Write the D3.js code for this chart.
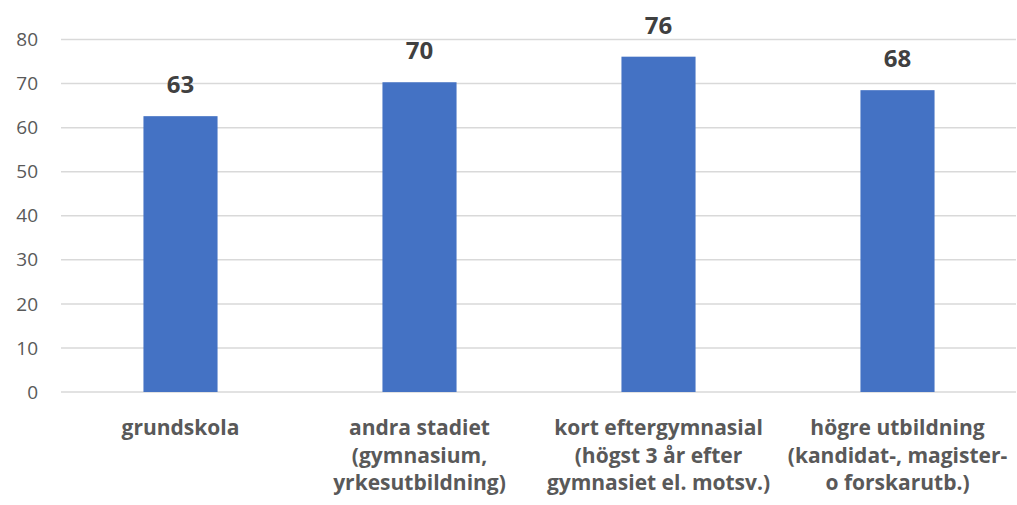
<!DOCTYPE html>
<head>
  <meta charset="utf-8">
  <script src="https://d3js.org/d3.v7.min.js"></script>
  <style>
    body { margin: 0; background: #fff; }
    text { font-family: 'Open Sans', sans-serif; }
    .tick-label { fill: #595959; font-size: 19px; }
    .cat-label { fill: #595959; font-size: 21px; font-weight: bold; }
    .value-label { fill: #404040; font-size: 24px; font-weight: bold; }
  </style>
</head>
<body>
  <div id="chart"></div>
  <script>
    var categories = [
      "grundskola",
      "andra stadiet\n(gymnasium,\nyrkesutbildning)",
      "kort eftergymnasial\n(högst 3 år efter\ngymnasiet el. motsv.)",
      "högre utbildning\n(kandidat-, magister-\no forskarutb.)"
    ];
    var values = [62.6, 70.3, 76.1, 68.5];
    var valueLabels = ["63", "70", "76", "68"];
    var yTicks = [0, 10, 20, 30, 40, 50, 60, 70, 80];

    var w = 1017, h = 505;
    var plotLeft = 61, plotRight = 1017, plotTop = 39.5, plotBottom = 392;

    var svg = d3.select("#chart")
      .append("svg")
      .attr("width", w)
      .attr("height", h);

    var x = d3.scaleBand()
      .domain(categories)
      .range([plotLeft, plotRight])
      .paddingInner(0.69)
      .paddingOuter(0.345);

    var y = d3.scaleLinear()
      .domain([0, 80])
      .range([plotBottom, plotTop]);

    // gridlines
    svg.append("g")
      .selectAll("line")
      .data(yTicks)
      .enter().append("line")
      .attr("x1", plotLeft)
      .attr("x2", plotRight - 1)
      .attr("y1", function (d) { return y(d); })
      .attr("y2", function (d) { return y(d); })
      .attr("stroke", "#d9d9d9")
      .attr("stroke-width", 1.5);

    svg.append("g")
      .selectAll("text")
      .data(yTicks)
      .enter().append("text")
      .attr("class", "tick-label")
      .attr("x", 38)
      .attr("y", function (d) { return y(d); })
      .attr("dy", "0.35em")
      .attr("text-anchor", "end")
      .text(function (d) { return d; });

    svg.append("g")
      .selectAll("rect")
      .data(values)
      .enter().append("rect")
      .attr("x", function (d, i) { return x(categories[i]); })
      .attr("width", x.bandwidth())
      .attr("y", function (d) { return y(d); })
      .attr("height", function (d) { return y(0) - y(d); })
      .attr("fill", "#4472c4");

    svg.append("g")
      .selectAll("text")
      .data(values)
      .enter().append("text")
      .attr("class", "value-label")
      .attr("x", function (d, i) { return x(categories[i]) + x.bandwidth() / 2; })
      .attr("y", function (d) { return y(d) - 23; })
      .attr("text-anchor", "middle")
      .text(function (d, i) { return valueLabels[i]; });

    var cats = svg.append("g")
      .selectAll("text")
      .data(categories)
      .enter().append("text")
      .attr("class", "cat-label")
      .attr("text-anchor", "middle")
      .attr("x", function (d) { return x(d) + x.bandwidth() / 2; })
      .attr("y", 435);

    cats.selectAll("tspan")
      .data(function (d) { return d.split("\n"); })
      .enter().append("tspan")
      .attr("x", function () { return d3.select(this.parentNode).attr("x"); })
      .attr("dy", function (d, i) { return i === 0 ? 0 : 27.5; })
      .text(function (d) { return d; });
  </script>
</body>
</html>
